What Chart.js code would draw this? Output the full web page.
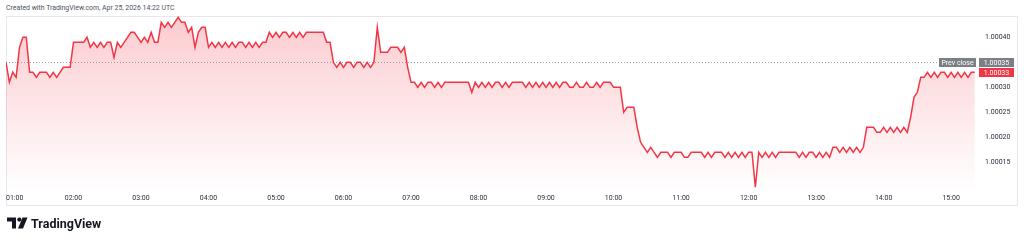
<!DOCTYPE html>
<html>
<head>
<meta charset="utf-8">
<script src="https://cdn.jsdelivr.net/npm/chart.js@4.4.1/dist/chart.umd.min.js"></script>
<style>
  html, body { margin: 0; padding: 0; background: #fff; width: 1024px; height: 242px; overflow: hidden; }
  #wrap { position: relative; width: 1024px; height: 242px; }
  #chart { position: absolute; left: 0; top: 0; }
  .header { position: absolute; left: 6px; top: 4px; font: 6.9px Roboto, sans-serif; color: #4c525e; white-space: nowrap; }
  .footer { position: absolute; left: 7px; top: 216px; height: 14px; display: flex; align-items: center; gap: 3px;
            font: bold 12.5px Roboto, sans-serif; color: #131722; }
</style>
</head>
<body>
<div id="wrap">
  <div class="header">Created with TradingView.com, Apr 25, 2026 14:22 UTC</div>
  <canvas id="chart" width="1024" height="242"></canvas>
  <div class="footer">
    <svg width="21" height="12" viewBox="0 0 21 12">
      <path d="M0 0.5 H9 V11.5 H5 V4.5 H0 Z" fill="#131722"/>
      <circle cx="12.3" cy="2.6" r="2.1" fill="#131722"/>
      <path d="M15.5 0.5 H20.5 L16 11.5 H11 Z" fill="#131722"/>
    </svg>
    <span>TradingView</span>
  </div>
</div>
<script>
// session starts 01:00, one close every 3 minutes
const startMinute = 0;
const stepMinutes = 3;

// closes
const closes = [
  1.00035, 1.00031, 1.00033, 1.00032, 1.00038, 1.00040, 1.00040, 1.00033, 1.00033, 1.00032,
  1.00033, 1.00033, 1.00033, 1.00032, 1.00033, 1.00032, 1.00033, 1.00034, 1.00034, 1.00034,
  1.00039, 1.00039, 1.00039, 1.00039, 1.00040, 1.00038, 1.00039, 1.00038, 1.00039, 1.00038,
  1.00039, 1.00039, 1.00036, 1.00039, 1.00038, 1.00039, 1.00040, 1.00041, 1.00041, 1.00040,
  1.00039, 1.00040, 1.00039, 1.00041, 1.00039, 1.00039, 1.00043, 1.00042, 1.00043, 1.00042,
  1.00043, 1.00044, 1.00043, 1.00043, 1.00041, 1.00042, 1.00038, 1.00041, 1.00042, 1.00042,
  1.00038, 1.00039, 1.00038, 1.00039, 1.00038, 1.00039, 1.00038, 1.00039, 1.00038, 1.00039,
  1.00039, 1.00038, 1.00039, 1.00038, 1.00039, 1.00038, 1.00039, 1.00039, 1.00041, 1.00040,
  1.00041, 1.00040, 1.00041, 1.00041, 1.00040, 1.00041, 1.00040, 1.00041, 1.00040, 1.00041,
  1.00041, 1.00041, 1.00041, 1.00041, 1.00041, 1.00039, 1.00039, 1.00035, 1.00034, 1.00035,
  1.00034, 1.00035, 1.00035, 1.00034, 1.00035, 1.00035, 1.00034, 1.00035, 1.00034, 1.00035,
  1.00042, 1.00037, 1.00037, 1.00037, 1.00038, 1.00038, 1.00038, 1.00037, 1.00038, 1.00034,
  1.00031, 1.00031, 1.00030, 1.00031, 1.00030, 1.00031, 1.00031, 1.00030, 1.00031, 1.00030,
  1.00031, 1.00031, 1.00031, 1.00031, 1.00031, 1.00031, 1.00031, 1.00031, 1.00029, 1.00031,
  1.00030, 1.00031, 1.00030, 1.00031, 1.00030, 1.00031, 1.00031, 1.00030, 1.00031, 1.00030,
  1.00031, 1.00031, 1.00031, 1.00031, 1.00030, 1.00031, 1.00030, 1.00031, 1.00030, 1.00031,
  1.00030, 1.00031, 1.00030, 1.00031, 1.00030, 1.00031, 1.00031, 1.00030, 1.00030, 1.00031,
  1.00030, 1.00030, 1.00031, 1.00030, 1.00030, 1.00031, 1.00030, 1.00031, 1.00031, 1.00031,
  1.00030, 1.00030, 1.00030, 1.00025, 1.00026, 1.00026, 1.00026, 1.00022, 1.00019, 1.00018,
  1.00017, 1.00018, 1.00017, 1.00016, 1.00017, 1.00017, 1.00017, 1.00016, 1.00017, 1.00017,
  1.00017, 1.00016, 1.00016, 1.00017, 1.00017, 1.00017, 1.00017, 1.00016, 1.00017, 1.00016,
  1.00017, 1.00017, 1.00017, 1.00016, 1.00017, 1.00016, 1.00017, 1.00016, 1.00017, 1.00016,
  1.00017, 1.00017, 1.00010, 1.00017, 1.00016, 1.00017, 1.00016, 1.00017, 1.00016, 1.00017,
  1.00017, 1.00017, 1.00017, 1.00017, 1.00017, 1.00016, 1.00017, 1.00016, 1.00017, 1.00017,
  1.00016, 1.00017, 1.00016, 1.00017, 1.00016, 1.00018, 1.00018, 1.00017, 1.00018, 1.00017,
  1.00018, 1.00017, 1.00018, 1.00017, 1.00018, 1.00022, 1.00022, 1.00022, 1.00021, 1.00021,
  1.00022, 1.00021, 1.00022, 1.00021, 1.00022, 1.00021, 1.00022, 1.00021, 1.00024, 1.00028,
  1.00029, 1.00032, 1.00032, 1.00033, 1.00032, 1.00033, 1.00032, 1.00033, 1.00033, 1.00032,
  1.00033, 1.00032, 1.00033, 1.00032, 1.00033, 1.00032, 1.00033, 1.00033
];

const prevClose = 1.00035;

const hourTicks = [0, 60, 120, 180, 240, 300, 360, 420, 480, 540, 600, 660, 720, 780, 840];
const hourLabels = ["01:00", "02:00", "03:00", "04:00", "05:00", "06:00", "07:00", "08:00",
  "09:00", "10:00", "11:00", "12:00", "13:00", "14:00", "15:00"];
const priceTicks = [1.00015, 1.00020, 1.00025, 1.00030, 1.00035, 1.00040];

const xMax = 863;
const yMin = 1.0000946;
const yMax = 1.0004426;

const red = "rgb(242,54,69)";
const axisFont = { family: "Roboto, sans-serif", size: 7 };
const textColor = "#2a2e39";

const points = closes.map((v, i) => ({ x: startMinute + i * stepMinutes, y: v }));

function areaGradient(context) {
  const { ctx, chartArea } = context.chart;
  if (!chartArea) return undefined;
  const g = ctx.createLinearGradient(0, chartArea.top, 0, chartArea.bottom);
  g.addColorStop(0, "rgba(242,54,69,0.26)");
  g.addColorStop(1, "rgba(242,54,69,0.0)");
  return g;
}

function labelBox(ctx, text, x, yMid, w, bg) {
  ctx.fillStyle = bg;
  ctx.fillRect(x, Math.round(yMid - 4.5), w, 9);
  ctx.fillStyle = "#fff";
  ctx.font = "7px Roboto, sans-serif";
  ctx.textAlign = "center";
  ctx.textBaseline = "middle";
  ctx.fillText(text, x + w / 2, yMid + 0.5);
}

const overlay = {
  id: "overlay",
  beforeDraw(chart) {
    const ctx = chart.ctx;
    ctx.save();
    ctx.strokeStyle = "#e6e8ee";
    ctx.lineWidth = 1;
    ctx.strokeRect(6.5, 16.5, 1011, 189);
    ctx.restore();
  },
  beforeDatasetsDraw(chart) {
    const { ctx, chartArea } = chart;
    const y = Math.round(chart.scales.y.getPixelForValue(prevClose)) + 0.5;
    ctx.save();
    ctx.strokeStyle = "#9ea2ab";
    ctx.lineWidth = 1;
    ctx.setLineDash([1, 2]);
    ctx.beginPath();
    ctx.moveTo(chartArea.left, y);
    ctx.lineTo(chartArea.right, y);
    ctx.stroke();
    ctx.restore();
  },
  afterDraw(chart) {
    const { ctx, chartArea } = chart;
    const ys = chart.scales.y;
    const last = closes[closes.length - 1];
    const yPrev = ys.getPixelForValue(prevClose);
    const yLast = ys.getPixelForValue(last);
    ctx.save();
    labelBox(ctx, "Prev close", chartArea.right - 38, yPrev, 37, "#7d7f86");
    labelBox(ctx, prevClose.toFixed(5), chartArea.right + 2, yPrev, 35, "#7d7f86");
    labelBox(ctx, last.toFixed(5), chartArea.right + 2, Math.max(yLast, yPrev + 10), 35, red);
    ctx.restore();
  }
};

new Chart(document.getElementById("chart"), {
  type: "line",
  data: {
    datasets: [{
      data: points,
      borderColor: red,
      borderWidth: 1.5,
      pointRadius: 0,
      tension: 0,
      fill: "start",
      backgroundColor: areaGradient
    }]
  },
  options: {
    responsive: false,
    animation: false,
    devicePixelRatio: 1,
    layout: { padding: { left: 6, top: 16, right: 6, bottom: 36 } },
    plugins: { legend: { display: false }, tooltip: { enabled: false } },
    scales: {
      x: {
        type: "linear",
        min: 0,
        max: xMax,
        afterBuildTicks: (s) => {
          s.ticks = hourTicks.map((v) => ({ value: v })).concat([{ value: xMax }]);
        },
        afterFit: (s) => { s.height = 16; },
        grid: { display: false, drawTicks: false },
        border: { display: false },
        ticks: {
          align: "inner",
          autoSkip: false,
          maxRotation: 0,
          padding: 4,
          font: axisFont,
          color: textColor,
          callback: (v) => {
            const i = hourTicks.indexOf(v);
            return i >= 0 ? hourLabels[i] : "";
          }
        }
      },
      y: {
        position: "right",
        min: yMin,
        max: yMax,
        afterBuildTicks: (s) => { s.ticks = priceTicks.map((v) => ({ value: v })); },
        afterFit: (s) => { s.width = 41; },
        grid: { display: false, drawTicks: false },
        border: { display: false },
        ticks: {
          padding: 8,
          font: axisFont,
          color: textColor,
          callback: (v) => v.toFixed(5)
        }
      }
    }
  },
  plugins: [overlay]
});
</script>
</body>
</html>
